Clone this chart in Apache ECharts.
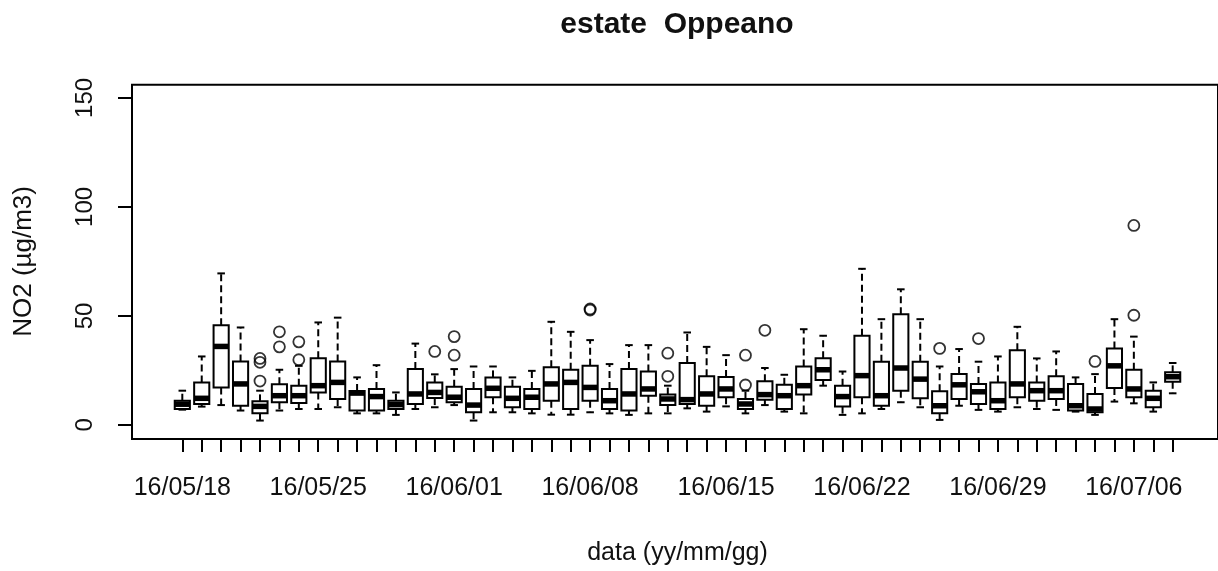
<!DOCTYPE html>
<html>
<head>
<meta charset="utf-8">
<script src="https://cdn.jsdelivr.net/npm/echarts@6/dist/echarts.min.js"></script>
<style>
html, body { margin: 0; padding: 0; background: #fff; }
#chart { width: 1218px; height: 571px; }
</style>
</head>
<body>
<div id="chart"></div>
<script>
// Daily NO2 distributions (µg/m3), summer campaign at Oppeano
const days = [
  '16/05/18','16/05/19','16/05/20','16/05/21','16/05/22','16/05/23','16/05/24',
  '16/05/25','16/05/26','16/05/27','16/05/28','16/05/29','16/05/30','16/05/31',
  '16/06/01','16/06/02','16/06/03','16/06/04','16/06/05','16/06/06','16/06/07',
  '16/06/08','16/06/09','16/06/10','16/06/11','16/06/12','16/06/13','16/06/14',
  '16/06/15','16/06/16','16/06/17','16/06/18','16/06/19','16/06/20','16/06/21',
  '16/06/22','16/06/23','16/06/24','16/06/25','16/06/26','16/06/27','16/06/28',
  '16/06/29','16/06/30','16/07/01','16/07/02','16/07/03','16/07/04','16/07/05',
  '16/07/06','16/07/07','16/07/08'
];
const whiskerLow = [
  7.0, 8.4, 9.1, 6.6, 2.0, 6.6, 7.3, 7.3, 8.1, 5.3, 5.3, 4.6, 7.3, 8.1,
  9.1, 2.0, 5.8, 5.8, 5.3, 4.7, 4.7, 5.8, 5.3, 4.6, 5.3, 5.3, 7.6, 6.1,
  8.5, 5.3, 9.1, 6.1, 5.3, 18.0, 4.6, 5.3, 7.3, 10.4, 8.1, 2.3, 8.8, 6.9,
  6.1, 8.1, 7.3, 6.9, 6.1, 4.6, 10.7, 9.9, 6.1, 14.5
];
const q1 = [
  7.3, 9.6, 17.2, 8.8, 5.3, 10.4, 10.1, 14.9, 11.9, 6.6, 6.6, 7.3, 9.6, 12.3,
  10.4, 5.8, 12.7, 8.1, 7.3, 11.1, 7.3, 11.1, 7.3, 6.6, 13.4, 9.1, 9.6, 8.8,
  12.7, 7.3, 11.6, 7.3, 13.9, 20.6, 8.4, 12.7, 8.8, 15.7, 12.2, 5.3, 11.9, 9.6,
  7.3, 12.7, 11.1, 11.9, 6.6, 5.8, 16.9, 12.7, 8.1, 19.8
];
const median = [
  9.5, 12.2, 36.0, 18.8, 8.5, 13.4, 13.4, 18.0, 19.5, 14.6, 13.0, 9.3, 14.2, 14.9,
  12.7, 9.1, 16.8, 12.2, 12.7, 18.8, 19.5, 17.2, 11.1, 14.2, 16.5, 11.9, 11.6, 14.2,
  16.5, 9.6, 13.9, 13.4, 18.0, 25.3, 13.0, 22.6, 13.4, 26.1, 21.0, 8.8, 18.4, 15.2,
  11.1, 18.8, 15.7, 15.7, 8.8, 7.3, 27.1, 16.5, 12.2, 22.1
];
const q3 = [
  11.1, 19.5, 45.7, 29.1, 10.8, 18.6, 18.0, 30.6, 29.1, 15.5, 16.5, 11.1, 25.6, 19.5,
  17.5, 16.5, 21.8, 17.5, 16.5, 26.4, 25.3, 27.1, 16.5, 25.6, 24.5, 13.9, 28.4, 22.3,
  22.0, 11.9, 20.0, 18.4, 26.8, 30.6, 18.0, 40.9, 29.0, 50.8, 29.0, 15.4, 23.3, 18.8,
  19.5, 34.3, 19.5, 22.3, 18.8, 14.2, 35.1, 25.3, 15.7, 24.1
];
const whiskerHigh = [
  15.7, 31.4, 69.5, 44.7, 15.7, 25.3, 27.1, 47.0, 49.2, 21.8, 27.4, 14.9, 37.3, 23.2,
  25.6, 26.8, 26.8, 21.8, 24.8, 47.3, 42.7, 38.9, 27.9, 36.6, 36.6, 18.0, 42.4, 35.8,
  32.0, 15.7, 26.1, 23.0, 43.9, 40.9, 24.5, 71.6, 48.5, 62.2, 48.5, 26.8, 34.8, 29.0,
  31.4, 45.0, 30.5, 33.7, 21.8, 23.3, 48.5, 40.5, 19.5, 28.4
];
const outliers = [
  ['16/05/22', 30.5], ['16/05/22', 28.7], ['16/05/22', 20.1],
  ['16/05/23', 42.7], ['16/05/23', 35.8],
  ['16/05/24', 38.1], ['16/05/24', 29.9],
  ['16/05/31', 33.7],
  ['16/06/01', 40.5], ['16/06/01', 32.0],
  ['16/06/08', 52.7], ['16/06/08', 53.2],
  ['16/06/12', 32.9], ['16/06/12', 22.3],
  ['16/06/16', 32.0], ['16/06/16', 18.3],
  ['16/06/17', 43.4],
  ['16/06/26', 35.1],
  ['16/06/28', 39.6],
  ['16/07/04', 29.1],
  ['16/07/06', 91.5], ['16/07/06', 50.3]
];
const yTicks = [0, 50, 100, 150];

const boxes = days.map((d, i) => [i, whiskerLow[i], q1[i], median[i], q3[i], whiskerHigh[i]]);

const FONT = '"Liberation Sans", Arial, sans-serif';
const INK = '#111';

// Draws one R-style box: dashed whiskers, short staples, box and heavy median bar
function renderBox(params, api) {
  const i = api.value(0);
  const band = api.size([1, 0])[0];
  const half = band * 0.39;
  const cap = half / 2;
  const x = api.coord([i, 0])[0];
  const y = v => api.coord([i, v])[1];
  const yLo = y(api.value(1)), yQ1 = y(api.value(2)), yMed = y(api.value(3));
  const yQ3 = y(api.value(4)), yHi = y(api.value(5));
  const solid = { stroke: '#000', lineWidth: 2 };
  const dashed = { stroke: '#000', lineWidth: 2, lineDash: [7, 4] };
  return {
    type: 'group',
    children: [
      { type: 'line', shape: { x1: x, y1: yQ3, x2: x, y2: yHi }, style: dashed },
      { type: 'line', shape: { x1: x, y1: yQ1, x2: x, y2: yLo }, style: dashed },
      { type: 'line', shape: { x1: x - cap, y1: yHi, x2: x + cap, y2: yHi }, style: solid },
      { type: 'line', shape: { x1: x - cap, y1: yLo, x2: x + cap, y2: yLo }, style: solid },
      { type: 'rect', shape: { x: x - half, y: yQ3, width: 2 * half, height: yQ1 - yQ3 },
        style: { fill: '#fff', stroke: '#000', lineWidth: 2 } },
      { type: 'line', shape: { x1: x - half, y1: yMed, x2: x + half, y2: yMed },
        style: { stroke: '#000', lineWidth: 5.5 } }
    ]
  };
}

const chart = echarts.init(document.getElementById('chart'), null, { renderer: 'canvas' });

const TOP = 84.8, HEIGHT = 354.3;

chart.setOption({
  animation: false,
  backgroundColor: '#fff',
  graphic: [{
    type: 'text',
    x: 677, y: 25,
    style: {
      text: 'estate  Oppeano',
      fontFamily: FONT, fontSize: 30, fontWeight: 'bold',
      fill: INK, align: 'center', verticalAlign: 'middle'
    }
  }],
  grid: [
    { left: 172.6, right: 35.6, top: TOP, height: HEIGHT, show: false },
    { left: 132, top: TOP, width: 1090, height: HEIGHT, show: true,
      borderColor: '#000', borderWidth: 2, backgroundColor: 'transparent' }
  ],
  xAxis: [{
    type: 'category',
    gridIndex: 0,
    data: days,
    boundaryGap: true,
    axisLine: { show: false, onZero: false },
    axisTick: { show: true, alignWithLabel: true, interval: 0, length: 14,
      lineStyle: { color: '#000', width: 2 } },
    axisLabel: { interval: 6, margin: 38, fontFamily: FONT, fontSize: 25, color: INK },
    splitLine: { show: false },
    name: 'data (yy/mm/gg)',
    nameLocation: 'middle',
    nameGap: 103,
    nameTextStyle: { fontFamily: FONT, fontSize: 25, color: INK }
  }],
  yAxis: [{
    type: 'value',
    gridIndex: 0,
    min: -6, max: 156,
    offset: 40.6,
    axisLine: { show: false, onZero: false },
    axisTick: { show: true, length: 14, customValues: yTicks,
      lineStyle: { color: '#000', width: 2 } },
    axisLabel: { rotate: 90, margin: 35, customValues: yTicks,
      fontFamily: FONT, fontSize: 24, color: INK },
    splitLine: { show: false },
    name: 'NO2 (µg/m3)',
    nameLocation: 'middle',
    nameRotate: 90,
    nameGap: 95,
    nameTextStyle: { fontFamily: FONT, fontSize: 26, color: INK }
  }],
  series: [
    {
      type: 'custom',
      xAxisIndex: 0, yAxisIndex: 0,
      renderItem: renderBox,
      encode: { x: 0, y: [1, 2, 3, 4, 5] },
      data: boxes,
      z: 3
    },
    {
      type: 'scatter',
      xAxisIndex: 0, yAxisIndex: 0,
      symbol: 'circle',
      symbolSize: 11,
      itemStyle: { color: 'rgba(0,0,0,0)', borderColor: '#000', borderWidth: 1.8 },
      data: outliers,
      z: 4
    }
  ]
});
</script>
</body>
</html>
